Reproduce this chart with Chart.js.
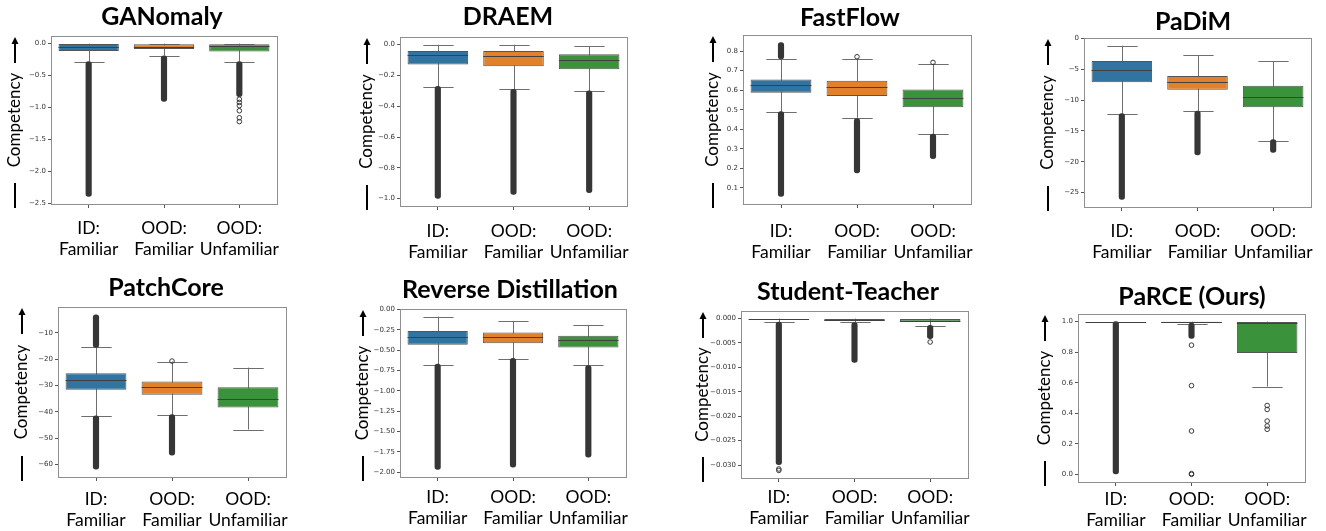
<!DOCTYPE html>
<html>
<head>
<meta charset="utf-8">
<script src="https://cdn.jsdelivr.net/npm/chart.js@4.4.1/dist/chart.umd.min.js"></script>
<style>
  html, body { margin: 0; padding: 0; background: #fff; overflow: hidden; width: 1326px; height: 531px; }
  #fig { position: relative; width: 1326px; height: 531px; overflow: hidden; }
  canvas { position: absolute; }
</style>
</head>
<body>
<div id="fig"></div>
<script>
const methods = ["GANomaly", "DRAEM", "FastFlow", "PaDiM", "PatchCore", "Reverse Distillation", "Student-Teacher", "PaRCE (Ours)"];
const categories = [["ID:", "Familiar"], ["OOD:", "Familiar"], ["OOD:", "Unfamiliar"]];
const boxColors = ["#3274a1", "#e1812c", "#3a923a"];

// box statistics, one row per method: [ID familiar, OOD familiar, OOD unfamiliar]
const q1 = [
  [-0.115, -0.083, -0.125],
  [-0.129, -0.140, -0.159],
  [0.587, 0.570, 0.513],
  [-7.10, -8.33, -11.18],
  [-31.6, -33.5, -38.3],
  [-0.435, -0.414, -0.467],
  [-0.0002, -0.0003, -0.0006],
  [1.0, 0.993, 0.794]
];
const medians = [
  [-0.045, -0.047, -0.035],
  [-0.069, -0.073, -0.099],
  [0.627, 0.616, 0.558],
  [-5.1, -7.04, -9.46],
  [-27.8, -30.7, -35.0],
  [-0.333, -0.337, -0.378],
  [-0.0001, -0.0002, -0.0004],
  [1.0, 0.997, 0.989]
];
const q3 = [
  [-0.005, -0.010, -0.010],
  [-0.041, -0.041, -0.062],
  [0.655, 0.648, 0.604],
  [-3.66, -6.08, -7.69],
  [-25.3, -28.5, -30.6],
  [-0.263, -0.284, -0.324],
  [0.0, 0.0, -0.0001],
  [1.0, 1.0, 0.998]
];
const whiskerLow = [
  [-0.28, -0.187, -0.28],
  [-0.273, -0.288, -0.301],
  [0.486, 0.459, 0.376],
  [-12.2, -11.83, -16.56],
  [-41.7, -41.3, -46.7],
  [-0.68, -0.61, -0.688],
  [-0.0007, -0.0008, -0.0015],
  [1.0, 0.985, 0.575]
];
const whiskerHigh = [
  [0.0, 0.0, 0.0],
  [0.0, 0.0, -0.009],
  [0.757, 0.762, 0.736],
  [-1.18, -2.69, -3.66],
  [-15.5, -20.9, -23.2],
  [-0.088, -0.141, -0.19],
  [0.0, 0.0, 0.0],
  [1.0, 1.0, 1.0]
];
// dense runs of outliers [from, to]
const outlierRuns = [
  [[[-0.28, -2.39]], [[-0.19, -0.905]], [[-0.28, -0.83]]],
  [[[-0.27, -0.998]], [[-0.29, -0.972]], [[-0.30, -0.961]]],
  [[[0.76, 0.843], [0.49, 0.057]], [[0.455, 0.177]], [[0.375, 0.249]]],
  [[[-12.2, -26.1]], [[-11.8, -18.9]], [[-16.4, -18.5]]],
  [[[-15.5, -3.1], [-41.5, -61.8]], [[-41.0, -56.4]], []],
  [[[-0.67, -1.965]], [[-0.60, -1.937]], [[-0.69, -1.814]]],
  [[[-0.0007, -0.0299]], [[-0.0008, -0.0090]], [[-0.0014, -0.0041]]],
  [[[1.0, 0.0]], [[0.99, 0.89]], []]
];
// separate outliers
const outlierPoints = [
  [[], [], [-0.87, -0.92, -0.97, -1.05, -1.16, -1.22]],
  [[], [], []],
  [[], [0.771], [0.742]],
  [[], [], []],
  [[], [-20.7], []],
  [[], [], []],
  [[-0.0308, -0.0311], [], [-0.0048]],
  [[], [0.846, 0.581, 0.284, 0.005, 0.0], [0.451, 0.425, 0.349, 0.317, 0.295]]
];
const tickSteps = [0.5, 0.2, 0.1, 5, 10, 0.25, 0.005, 0.2];
const tickDecimals = [1, 1, 1, 0, 0, 2, 3, 1];

// page layout: plot frame [left, top, right, bottom], title centre, gaps
const frames = [
  [51, 36, 277, 204], [400, 37, 627, 206], [743, 35, 971, 204], [1084, 38, 1311, 207],
  [58, 307, 286, 477], [400, 309, 626, 477], [741, 311, 968, 478], [1078, 314, 1305, 482]
];
const titleX = [162, 508, 850, 1193, 166, 510, 848, 1192];
const titleGap = [19, 20, 17.5, 16, 19, 19, 19, 17];
const yTitleGap = [36, 33, 30, 36, 36, 37, 38, 33];
const xLabelGap = [21, 22, 24, 21, 19, 17, 16, 14];

const TOP_H = 40, BOTTOM_H = 56, YT_LH = 17 * 1.2, TITLE_LH = 25 * 1.2;

const boxParts = {
  id: 'boxParts',
  beforeDatasetsDraw(chart, args, opts) {
    const p = opts.panel, ctx = chart.ctx, x = chart.scales.x, y = chart.scales.y;
    const boxes = chart.getDatasetMeta(0).data;
    ctx.save();
    ctx.strokeStyle = '#6e6e6e';
    ctx.lineWidth = 1;
    categories.forEach((c, i) => {
      const cx = Math.round(x.getPixelForValue(i)) + 0.5;
      const half = boxes[i].width / 4;
      ctx.beginPath();
      ctx.moveTo(cx, y.getPixelForValue(whiskerHigh[p][i]));
      ctx.lineTo(cx, y.getPixelForValue(whiskerLow[p][i]));
      [whiskerHigh[p][i], whiskerLow[p][i]].forEach(v => {
        const py = Math.round(y.getPixelForValue(v)) + 0.5;
        ctx.moveTo(cx - half, py);
        ctx.lineTo(cx + half, py);
      });
      ctx.stroke();
    });
    ctx.restore();
  },
  afterDatasetsDraw(chart, args, opts) {
    const p = opts.panel, ctx = chart.ctx, x = chart.scales.x, y = chart.scales.y;
    const boxes = chart.getDatasetMeta(0).data;
    ctx.save();
    ctx.strokeStyle = '#404040';
    ctx.lineWidth = 1;
    categories.forEach((c, i) => {
      const cx = x.getPixelForValue(i);
      const half = boxes[i].width / 2;
      const py = Math.round(y.getPixelForValue(medians[p][i])) + 0.5;
      ctx.beginPath();
      ctx.moveTo(cx - half, py);
      ctx.lineTo(cx + half, py);
      ctx.stroke();
    });
    ctx.restore();
  },
  afterDraw(chart, args, opts) {
    const ctx = chart.ctx, a = chart.chartArea;
    ctx.save();
    ctx.strokeStyle = '#8f8f8f';
    ctx.lineWidth = 1;
    ctx.strokeRect(Math.round(a.left) + 0.5, Math.round(a.top) + 0.5, Math.round(a.right - a.left), Math.round(a.bottom - a.top));
    // arrow and bar beside the y title
    const tx = opts.titleX;
    ctx.strokeStyle = '#000';
    ctx.fillStyle = '#000';
    ctx.lineWidth = 2;
    ctx.beginPath();
    ctx.moveTo(tx, a.top + 27);
    ctx.lineTo(tx, a.top + 7);
    ctx.moveTo(tx, a.bottom - 21);
    ctx.lineTo(tx, a.bottom + 4);
    ctx.stroke();
    ctx.beginPath();
    ctx.moveTo(tx, a.top + 1);
    ctx.lineTo(tx - 3.5, a.top + 8);
    ctx.lineTo(tx + 3.5, a.top + 8);
    ctx.closePath();
    ctx.fill();
    ctx.restore();
  }
};

function fmtTick(v, d) {
  const s = (Math.abs(v) < 1e-12 ? 0 : v).toFixed(d);
  return s.replace('-', '\u2212');
}

const fig = document.getElementById('fig');

methods.forEach((name, p) => {
  const [fl, ft, fr, fb] = frames[p];
  const left = Math.round(fl - yTitleGap[p] - YT_LH / 2);
  const yW = fl - left;
  const width = Math.round(2 * (titleX[p] - left));
  const rightW = left + width - fr;
  const top = ft - TOP_H;
  const height = (fb - ft) + TOP_H + BOTTOM_H;

  const canvas = document.createElement('canvas');
  canvas.width = width;
  canvas.height = height;
  canvas.style.left = left + 'px';
  canvas.style.top = top + 'px';
  canvas.style.width = width + 'px';
  canvas.style.height = height + 'px';
  fig.appendChild(canvas);

  // y range like matplotlib: data extent plus 5 %
  const all = [].concat(q1[p], q3[p], whiskerLow[p], whiskerHigh[p],
    ...outlierRuns[p].map(r => r.flat()), ...outlierPoints[p]);
  const lo = Math.min(...all), hi = Math.max(...all);
  const pad = (hi - lo) * 0.05;
  const yMin = lo - pad, yMax = hi + pad;

  const datasets = [{
    type: 'bar',
    data: categories.map((c, i) => [q1[p][i], q3[p][i]]),
    backgroundColor: boxColors,
    borderColor: '#555',
    borderWidth: 1,
    borderSkipped: false,
    barPercentage: 0.8,
    categoryPercentage: 1,
    grouped: false,
    order: 1
  }];
  const maxRuns = Math.max(...outlierRuns[p].map(r => r.length));
  for (let k = 0; k < maxRuns; k++) {
    datasets.push({
      type: 'bar',
      data: categories.map((c, i) => outlierRuns[p][i][k] || null),
      backgroundColor: '#363636',
      borderWidth: 0,
      barThickness: 5.5,
      borderRadius: 3,
      borderSkipped: false,
      grouped: false,
      order: 2
    });
  }
  const maxPts = Math.max(...outlierPoints[p].map(r => r.length));
  for (let k = 0; k < maxPts; k++) {
    datasets.push({
      type: 'line',
      data: categories.map((c, i) => outlierPoints[p][i][k] ?? null),
      showLine: false,
      pointRadius: 2.3,
      pointBorderWidth: 1,
      pointBackgroundColor: 'rgba(0,0,0,0)',
      pointBorderColor: '#3a3a3a',
      order: 0
    });
  }

  new Chart(canvas.getContext('2d'), {
    type: 'bar',
    data: { labels: categories, datasets },
    options: {
      responsive: false,
      animation: false,
      devicePixelRatio: 1,
      layout: { padding: 0 },
      plugins: {
        legend: { display: false },
        tooltip: { enabled: false },
        title: {
          display: true,
          text: name,
          color: '#000',
          font: { family: 'Lato', size: 25, weight: 'bold', lineHeight: 1.2 },
          padding: { top: TOP_H - titleGap[p] - TITLE_LH / 2, bottom: titleGap[p] - TITLE_LH / 2 }
        },
        boxParts: { panel: p, titleX: fl - yTitleGap[p] - left }
      },
      scales: {
        x: {
          type: 'category',
          offset: true,
          grid: { drawOnChartArea: false, drawTicks: true, tickLength: 4, offset: false, color: '#555' },
          border: { display: false },
          ticks: {
            color: '#000',
            font: { family: 'Lato', size: 17.5, lineHeight: 1.2 },
            padding: xLabelGap[p] - 10.75,
            maxRotation: 0,
            autoSkip: false
          },
          afterFit: s => { s.height = BOTTOM_H; }
        },
        y: {
          type: 'linear',
          position: 'left',
          min: yMin,
          max: yMax,
          grid: { drawOnChartArea: false, tickLength: 3, color: '#555' },
          border: { display: false },
          ticks: {
            color: '#333',
            font: { family: 'DejaVu Sans', size: 7 },
            padding: 2,
            autoSkip: false,
            callback: v => fmtTick(v, tickDecimals[p])
          },
          title: {
            display: true,
            text: 'Competency',
            color: '#000',
            font: { family: 'Lato', size: 17, lineHeight: 1.2 },
            padding: { top: yW - yTitleGap[p] - YT_LH / 2, bottom: 0 }
          },
          afterBuildTicks: s => {
            const st = tickSteps[p];
            const ticks = [];
            for (let k = Math.ceil(yMin / st - 1e-9); k <= Math.floor(yMax / st + 1e-9); k++) {
              ticks.push({ value: Math.round(k * st * 1e6) / 1e6 });
            }
            s.ticks = ticks;
          },
          afterFit: s => { s.width = yW; }
        },
        yR: {
          type: 'linear',
          position: 'right',
          display: true,
          grid: { display: false },
          border: { display: false },
          ticks: { display: false },
          afterFit: s => { s.width = rightW; }
        }
      }
    },
    plugins: [boxParts]
  });
});
</script>
</body>
</html>
